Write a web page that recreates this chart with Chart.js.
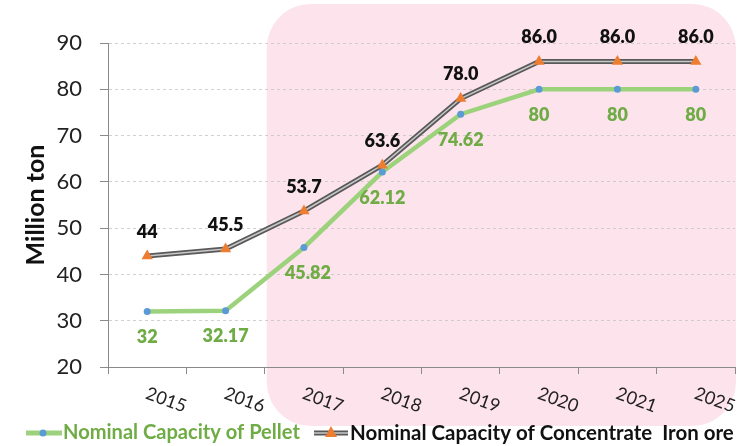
<!DOCTYPE html>
<html>
<head>
<meta charset="utf-8">
<script src="https://cdn.jsdelivr.net/npm/chart.js@4.4.1/dist/chart.umd.min.js"></script>
<style>
    html, body { margin: 0; padding: 0; background: #fff; }
    #wrap { width: 737px; height: 446px; position: relative; }
</style>
</head>
<body>
<div id="wrap"><canvas id="capacityChart"></canvas></div>
<script>
const years = ['2015', '2016', '2017', '2018', '2019', '2020', '2021', '2025'];
const pellet = [32, 32.17, 45.82, 62.12, 74.62, 80, 80, 80];
const pelletLabels = ['32', '32.17', '45.82', '62.12', '74.62', '80', '80', '80'];
const concentrate = [44, 45.5, 53.7, 63.6, 78.0, 86.0, 86.0, 86.0];
const concentrateLabels = ['44', '45.5', '53.7', '63.6', '78.0', '86.0', '86.0', '86.0'];
const yMin = 20, yMax = 90, yStep = 10;
const legendNames = ['Nominal Capacity of Pellet', 'Nominal Capacity of Concentrate  Iron ore'];

const FONT = 'Lato';
const GREEN_LINE = '#9dd27c';
const GREEN_TEXT = '#6fac46';
const BLUE = '#5b9bd5';
const ORANGE = '#ed7d31';
const DARK = '#595959';
const LIGHT = '#c8c8c8';
const PINK = '#fde4ec';

/* ===== pink rounded backdrop ===== */
const backdrop = {
    id: 'backdrop',
    beforeDraw(chart) {
        const ctx = chart.ctx, x = chart.scales.x;
        const left = (x.getPixelForValue(1) + x.getPixelForValue(2)) / 2 + 2;
        ctx.save();
        ctx.fillStyle = PINK;
        ctx.beginPath();
        ctx.roundRect(left, 4, chart.width - left - 1, 422, 44);
        ctx.fill();
        ctx.restore();
    }
};

/* ===== value labels, x labels, legend ===== */
function fitFont(ctx, text, target, weight) {
    ctx.font = weight + ' 20px ' + FONT;
    const size = 20 * target / ctx.measureText(text).width;
    return weight + ' ' + size.toFixed(2) + 'px ' + FONT;
}

const overlay = {
    id: 'overlay',
    afterDraw(chart) {
        const ctx = chart.ctx, x = chart.scales.x;
        ctx.save();
        ctx.textAlign = 'center';
        ctx.textBaseline = 'middle';

        // value labels
        ctx.font = '800 18px ' + FONT;
        const cMeta = chart.getDatasetMeta(0).data;
        ctx.fillStyle = '#111';
        cMeta.forEach((p, i) => ctx.fillText(concentrateLabels[i], p.x, p.y - 24));
        const pMeta = chart.getDatasetMeta(3).data;
        ctx.fillStyle = GREEN_TEXT;
        pMeta.forEach((p, i) => ctx.fillText(pelletLabels[i], p.x + (i == 2 ? 4 : 0), p.y + 26));

        // rotated category labels
        ctx.fillStyle = '#222';
        ctx.font = '18px ' + FONT;
        years.forEach((y, i) => {
            ctx.save();
            ctx.translate(x.getPixelForValue(i) + 19, 400);
            ctx.rotate(20 * Math.PI / 180);
            ctx.fillText(y, 0, 0);
            ctx.restore();
        });

        // legend
        const ly = 433;
        ctx.lineCap = 'butt';
        ctx.strokeStyle = GREEN_LINE; ctx.lineWidth = 5;
        ctx.beginPath(); ctx.moveTo(26, ly); ctx.lineTo(62, ly); ctx.stroke();
        ctx.fillStyle = BLUE;
        ctx.beginPath(); ctx.arc(43, ly, 3.5, 0, Math.PI * 2); ctx.fill();
        ctx.textAlign = 'left';
        ctx.fillStyle = GREEN_TEXT;
        ctx.font = fitFont(ctx, legendNames[0], 237, 'bold');
        ctx.fillText(legendNames[0], 63, ly);

        ctx.strokeStyle = DARK; ctx.lineWidth = 5;
        ctx.beginPath(); ctx.moveTo(314, ly); ctx.lineTo(348, ly); ctx.stroke();
        ctx.strokeStyle = LIGHT; ctx.lineWidth = 1.5;
        ctx.beginPath(); ctx.moveTo(314, ly); ctx.lineTo(348, ly); ctx.stroke();
        ctx.fillStyle = ORANGE;
        ctx.beginPath(); ctx.moveTo(331, ly - 7); ctx.lineTo(337, ly + 4); ctx.lineTo(325, ly + 4); ctx.closePath(); ctx.fill();
        ctx.fillStyle = '#111';
        ctx.font = fitFont(ctx, legendNames[1], 384, 'bold');
        ctx.fillText(legendNames[1], 350, ly);
        ctx.restore();
    }
};

const ctx = document.getElementById('capacityChart').getContext('2d');
new Chart(ctx, {
    type: 'line',
    data: {
        labels: years,
        datasets: [
            {   // concentrate markers
                data: concentrate, showLine: false, order: 0,
                pointStyle: 'triangle', pointRadius: 6.5, pointBorderWidth: 0,
                pointBackgroundColor: ORANGE, pointBorderColor: ORANGE
            },
            {   // concentrate highlight
                data: concentrate, order: 1, borderColor: LIGHT, borderWidth: 1.5,
                pointRadius: 0, tension: 0
            },
            {   // concentrate body
                data: concentrate, order: 2, borderColor: DARK, borderWidth: 5,
                pointRadius: 0, tension: 0
            },
            {
                label: legendNames[0], data: pellet, order: 3,
                borderColor: GREEN_LINE, borderWidth: 4.5, tension: 0,
                pointRadius: 3.5, pointBorderWidth: 0,
                pointBackgroundColor: BLUE, pointBorderColor: BLUE
            }
        ]
    },
    options: {
        responsive: true,
        maintainAspectRatio: false,
        animation: false,
        layout: { autoPadding: false, padding: { left: 22, right: 2, top: 43, bottom: 0 } },
        plugins: { legend: { display: false }, tooltip: { enabled: false } },
        scales: {
            x: {
                offset: true,
                grid: { offset: true, drawOnChartArea: false, tickLength: 7, tickColor: '#8a8a8a' },
                border: { color: '#8a8a8a', width: 1 },
                ticks: { callback: () => '', maxRotation: 0, autoSkip: false, padding: 0 },
                afterFit(scale) { scale.height = 79; }
            },
            y: {
                min: yMin, max: yMax,
                ticks: { stepSize: yStep, color: '#222', padding: 18, font: { family: FONT, size: 22 } },
                grid: { color: 'rgba(190,190,190,0.7)', tickLength: 8, tickColor: '#8a8a8a', tickBorderDash: [] },
                border: { color: '#8a8a8a', width: 1, dash: [3, 3] },
                title: {
                    display: true, text: 'Million ton', color: '#111', padding: 0,
                    font: { family: FONT, size: 25, weight: 'bold', lineHeight: 1.15 }
                },
                afterFit(scale) { scale.width = 86; }
            }
        }
    },
    plugins: [backdrop, overlay]
});
</script>
</body>
</html>
